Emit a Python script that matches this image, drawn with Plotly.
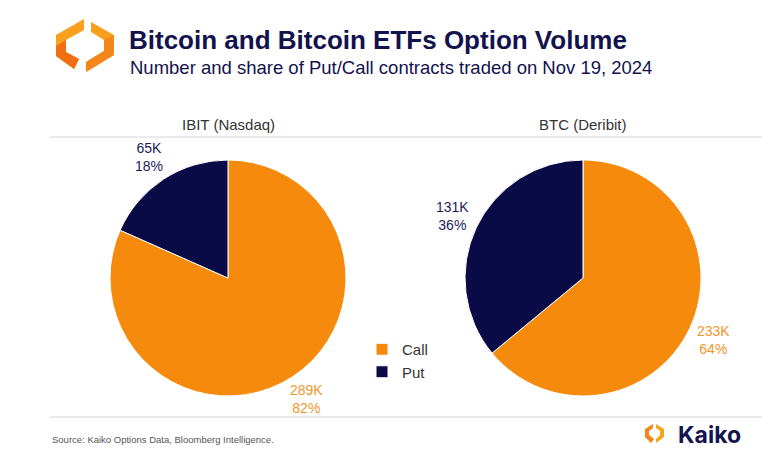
import math
import plotly.graph_objects as go

W, H = 782, 474
OFF = 8  # page body margin offset in the screenshot

# ---- data ----
labels = ["Call", "Put"]
ibit_values = [289000, 65000]
btc_values = [233000, 131000]
panel_titles = ["IBIT (Nasdaq)", "BTC (Deribit)"]

ORANGE = "#F68A0C"
NAVY = "#0A0A47"
ORANGE_TXT = "#F0962C"
NAVY_TXT = "#1B1B5C"
LABEL_COLORS = [ORANGE_TXT, NAVY_TXT]


def px(x):
    return (x - OFF) / W


def py(y):
    return 1 - (y - OFF) / H


font_fam = "Liberation Sans, Arial, sans-serif"

# pie boxes in pixels: (left, top, right, bottom)
boxes = [(110, 160, 346, 396), (465, 160, 701, 396)]

fig = go.Figure()
ann = []
for i, (values, box) in enumerate(zip([ibit_values, btc_values], boxes)):
    l, t, r, b = box
    fig.add_trace(go.Pie(
        labels=labels,
        values=values,
        textinfo="none",
        sort=False,
        direction="clockwise",
        rotation=0,
        marker=dict(colors=[ORANGE, NAVY], line=dict(color="white", width=1)),
        domain=dict(x=[px(l), px(r)], y=[py(b), py(t)]),
        showlegend=(i == 0),
        hoverinfo="label+value+percent",
    ))
    # outside labels along each slice's mid-angle
    cx, cy, rad = (l + r) / 2, (t + b) / 2, (r - l) / 2
    total = sum(values)
    cum = 0
    for v, col in zip(values, LABEL_COLORS):
        frac = v / total
        mid = (cum + frac / 2) * 2 * math.pi
        cum += frac
        dist = rad * 1.225
        lx = cx + dist * math.sin(mid)
        ly = cy - dist * math.cos(mid)
        ann.append(dict(x=px(lx), y=py(ly), xref="paper", yref="paper",
                        xanchor="center", yanchor="middle", showarrow=False,
                        text=f"{round(v / 1000)}K<br>{round(frac * 100)}%",
                        font=dict(size=14, color=col, family=font_fam)))

ann.append(dict(x=px(127), y=py(40), xref="paper", yref="paper", xanchor="left", yanchor="middle",
                text="<b>Bitcoin and Bitcoin ETFs Option Volume</b>", showarrow=False,
                font=dict(size=26, color="#12124E", family=font_fam)))
ann.append(dict(x=px(128), y=py(67), xref="paper", yref="paper", xanchor="left", yanchor="middle",
                text="Number and share of Put/Call contracts traded on Nov 19, 2024", showarrow=False,
                font=dict(size=18.5, color="#12124E", family=font_fam)))
for t, box in zip(panel_titles, boxes):
    ann.append(dict(x=px((box[0] + box[2]) / 2), y=py(125), xref="paper", yref="paper",
                    xanchor="center", yanchor="middle",
                    text=t, showarrow=False, font=dict(size=15, color="#333333", family=font_fam)))
ann.append(dict(x=px(50), y=py(439), xref="paper", yref="paper", xanchor="left", yanchor="middle",
                text="Source: Kaiko Options Data, Bloomberg Intelligence.", showarrow=False,
                font=dict(size=9.5, color="#555555", family=font_fam)))
ann.append(dict(x=px(676), y=py(435), xref="paper", yref="paper", xanchor="left", yanchor="middle",
                text="<b>Kaiko</b>", showarrow=False,
                font=dict(size=23, color="#14144F", family="Inter, Liberation Sans, sans-serif")))


def path(points):
    return "M " + " L ".join(f"{px(x)},{py(y)}" for x, y in points) + " Z"


shapes = []
# separator lines
for yy in (137, 417):
    shapes.append(dict(type="line", xref="paper", yref="paper", x0=px(50), x1=px(762), y0=py(yy), y1=py(yy),
                       line=dict(color="#D6D6D6", width=1)))
# header logo
shapes.append(dict(type="path", xref="paper", yref="paper",
                   path=path([(84, 19), (56, 35), (56, 56), (74, 69), (79, 59), (66, 52), (66, 40), (84, 30)]),
                   fillcolor="#F7A01E", line=dict(width=0)))
shapes.append(dict(type="path", xref="paper", yref="paper",
                   path=path([(66, 40), (66, 52), (79, 59), (74, 69), (56, 56), (56, 46)]),
                   fillcolor="#F26E12", line=dict(width=0)))
shapes.append(dict(type="path", xref="paper", yref="paper",
                   path=path([(91, 22), (114, 35), (114, 55), (86, 72), (86, 62), (104, 51), (104, 40), (91, 32)]),
                   fillcolor="#F7A01E", line=dict(width=0)))
shapes.append(dict(type="path", xref="paper", yref="paper",
                   path=path([(104, 40), (114, 35), (114, 55), (86, 72), (86, 62), (104, 51)]),
                   fillcolor="#F4861A", line=dict(width=0)))
# footer logo
shapes.append(dict(type="path", xref="paper", yref="paper",
                   path=path([(653, 424), (645, 429), (645, 437), (651, 443), (654, 439), (649, 435), (649, 431), (653, 428)]),
                   fillcolor="#F3861A", line=dict(width=0)))
shapes.append(dict(type="path", xref="paper", yref="paper",
                   path=path([(656, 424), (664, 429), (664, 437), (656, 443), (656, 439), (660, 435), (660, 431), (656, 428)]),
                   fillcolor="#F7A51E", line=dict(width=0)))

fig.update_layout(
    width=W, height=H,
    margin=dict(l=0, r=0, t=0, b=0),
    paper_bgcolor="white",
    plot_bgcolor="white",
    annotations=ann,
    shapes=shapes,
    legend=dict(x=px(362), y=py(333), xanchor="left", yanchor="top",
                font=dict(size=15, color="#333333", family=font_fam),
                bgcolor="rgba(0,0,0,0)", tracegroupgap=0),
    font=dict(family=font_fam),
)

fig.write_html("out.html")
